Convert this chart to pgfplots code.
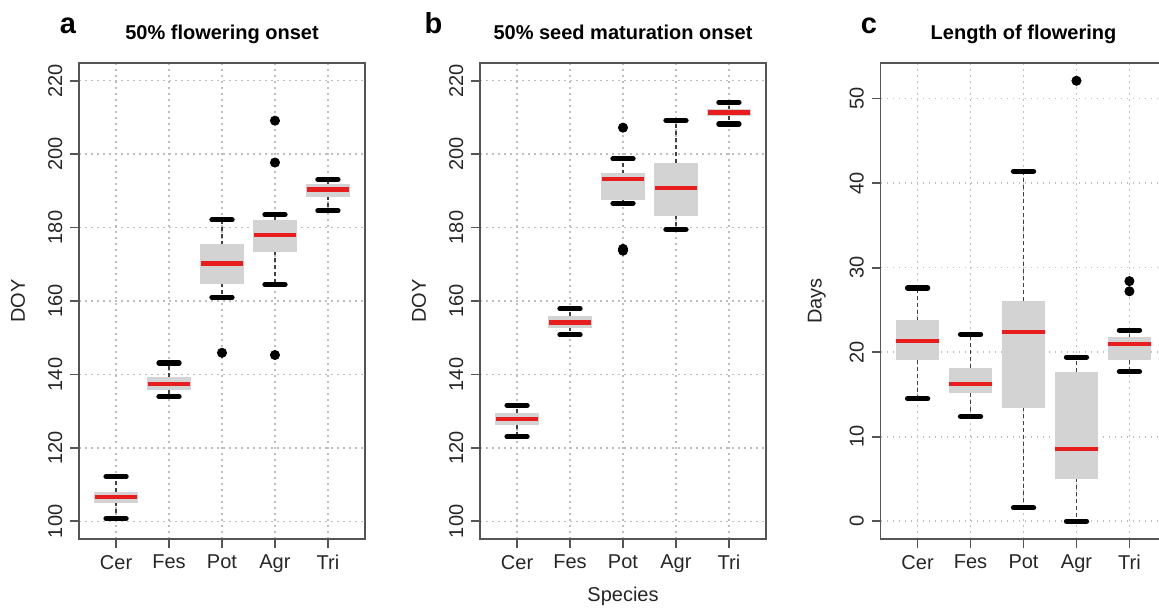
\documentclass[border=0pt]{standalone}
\usepackage{fontspec}
\setmainfont{Liberation Sans}
\usepackage{pgfplots}
\pgfplotsset{compat=1.18}
\usepgfplotslibrary{statistics}
\definecolor{boxgray}{RGB}{211,211,211}
\definecolor{medred}{RGB}{232,30,30}
\definecolor{framegray}{RGB}{85,85,85}
\definecolor{gridgray}{RGB}{190,190,190}

\pgfplotsset{
  rpanel/.style={
    anchor=south west, scale only axis, width=143pt, height=238pt,
    xmin=0.3, xmax=5.7,
    xtick={1,2,3,4,5}, xticklabels={Cer,Fes,Pot,Agr,Tri},
    /pgf/number format/assume math mode=true,
    grid=major,
    grid style={gridgray, line width=0.8pt, dash pattern=on 0.8pt off 2.2pt},
    axis line style={framegray, line width=0.9pt},
    every tick/.style={framegray, line width=0.9pt},
    tick align=outside, tick pos=left,
    major tick length=4.5pt,
    tick label style={font=\fontsize{10}{12}\selectfont, text=black!85},
    yticklabel style={xshift=-4pt, rotate=90, anchor=base},
    xticklabel style={anchor=north},
    label style={font=\fontsize{10}{12}\selectfont, text=black!85},
    title style={at={(0.5,1)}, anchor=base, yshift=6pt, font=\bfseries\fontsize{10}{12}\selectfont},
  },
  rbox/.style={
    boxplot/draw direction=y,
    boxplot/box extend=0.8,
    boxplot/whisker extend=0.38,
    mark=*, mark size=2.3pt, mark options={draw=black, fill=black},
    boxplot/draw/box/.code={%
      \fill[boxgray] (boxplot box cs:\pgfplotsboxplotvalue{lower quartile},0) rectangle (boxplot box cs:\pgfplotsboxplotvalue{upper quartile},1);
    },
    boxplot/draw/median/.code={%
      \draw[medred, line width=2.2pt] (boxplot box cs:\pgfplotsboxplotvalue{median},0) -- (boxplot box cs:\pgfplotsboxplotvalue{median},1);
    },
    boxplot/draw/lower whisker/.code={%
      \draw[black!75, line width=0.6pt, dash pattern=on 2pt off 1.5pt] (boxplot cs:\pgfplotsboxplotvalue{lower quartile}) -- (boxplot cs:\pgfplotsboxplotvalue{lower whisker});
      \draw[black, line width=2.6pt, line cap=round] (boxplot whisker cs:\pgfplotsboxplotvalue{lower whisker},0) -- (boxplot whisker cs:\pgfplotsboxplotvalue{lower whisker},1);
    },
    boxplot/draw/upper whisker/.code={%
      \draw[black!75, line width=0.6pt, dash pattern=on 2pt off 1.5pt] (boxplot cs:\pgfplotsboxplotvalue{upper quartile}) -- (boxplot cs:\pgfplotsboxplotvalue{upper whisker});
      \draw[black, line width=2.6pt, line cap=round] (boxplot whisker cs:\pgfplotsboxplotvalue{upper whisker},0) -- (boxplot whisker cs:\pgfplotsboxplotvalue{upper whisker},1);
    },
  },
}

\begin{document}
\begin{tikzpicture}
% ---------------- panel a ----------------
\begin{axis}[rpanel, at={(39.5pt,34pt)},
  ymin=95.2, ymax=224.8, ytick={100,120,...,220},
  title={50\% flowering onset},
  ylabel={DOY}, ylabel style={at={(axis description cs:-0.189,0.5)}, anchor=base}]
\addplot[rbox, boxplot prepared={draw position=1, lower whisker=100.8, lower quartile=105.2, median=106.7, upper quartile=107.9, upper whisker=112.2}] coordinates {};
\addplot[rbox, boxplot prepared={draw position=2, lower whisker=134.0, lower quartile=135.8, median=137.4, upper quartile=139.2, upper whisker=143.1}] coordinates {};
\addplot[rbox, boxplot prepared={draw position=3, lower whisker=161.0, lower quartile=164.9, median=170.2, upper quartile=175.3, upper whisker=182.1}] table[row sep=\\, y index=0] {data\\ 145.9\\};
\addplot[rbox, boxplot prepared={draw position=4, lower whisker=164.5, lower quartile=173.6, median=178.0, upper quartile=181.9, upper whisker=183.5}] table[row sep=\\, y index=0] {data\\ 209.1\\ 197.7\\ 145.3\\};
\addplot[rbox, boxplot prepared={draw position=5, lower whisker=184.6, lower quartile=188.5, median=190.4, upper quartile=191.7, upper whisker=193.1}] coordinates {};
\end{axis}
% ---------------- panel b ----------------
\begin{axis}[rpanel, at={(240pt,34pt)},
  ymin=95.2, ymax=224.8, ytick={100,120,...,220},
  title={50\% seed maturation onset},
  ylabel={DOY}, ylabel style={at={(axis description cs:-0.189,0.5)}, anchor=base},
  xlabel={Species}, xlabel style={at={(axis description cs:0.5,0)}, anchor=base, yshift=-31pt}]
\addplot[rbox, boxplot prepared={draw position=1, lower whisker=123.1, lower quartile=126.3, median=127.9, upper quartile=129.5, upper whisker=131.6}] coordinates {};
\addplot[rbox, boxplot prepared={draw position=2, lower whisker=150.8, lower quartile=152.9, median=154.2, upper quartile=155.9, upper whisker=157.9}] coordinates {};
\addplot[rbox, boxplot prepared={draw position=3, lower whisker=186.6, lower quartile=187.6, median=193.3, upper quartile=194.7, upper whisker=198.7}] table[row sep=\\, y index=0] {data\\ 207.2\\ 174.2\\ 173.7\\};
\addplot[rbox, boxplot prepared={draw position=4, lower whisker=179.5, lower quartile=183.4, median=190.7, upper quartile=197.6, upper whisker=209.1}] coordinates {};
\addplot[rbox, boxplot prepared={draw position=5, lower whisker=208.2, lower quartile=210.5, median=211.3, upper quartile=212.1, upper whisker=214.1}] coordinates {};
\end{axis}
% ---------------- panel c ----------------
\begin{axis}[rpanel, at={(440.25pt,34pt)},
  ymin=-2.1, ymax=54.2, ytick={0,10,...,50},
  title={Length of flowering},
  ylabel={Days}, ylabel style={at={(axis description cs:-0.206,0.5)}, anchor=base}]
\addplot[rbox, boxplot prepared={draw position=1, lower whisker=14.5, lower quartile=19.1, median=21.3, upper quartile=23.7, upper whisker=27.6}] coordinates {};
\addplot[rbox, boxplot prepared={draw position=2, lower whisker=12.4, lower quartile=15.2, median=16.2, upper quartile=18.1, upper whisker=22.1}] coordinates {};
\addplot[rbox, boxplot prepared={draw position=3, lower whisker=1.6, lower quartile=13.5, median=22.4, upper quartile=26.0, upper whisker=41.4}] coordinates {};
\addplot[rbox, boxplot prepared={draw position=4, lower whisker=0, lower quartile=5.1, median=8.55, upper quartile=17.6, upper whisker=19.4}] table[row sep=\\, y index=0] {data\\ 52.1\\};
\addplot[rbox, boxplot prepared={draw position=5, lower whisker=17.7, lower quartile=19.1, median=21.0, upper quartile=21.7, upper whisker=22.6}] table[row sep=\\, y index=0] {data\\ 28.4\\ 27.2\\};
\end{axis}
% panel letters
\node[anchor=base, font=\bfseries\fontsize{14.5}{17}\selectfont] at (34pt,287pt) {a};
\node[anchor=base, font=\bfseries\fontsize{14.5}{17}\selectfont] at (216.75pt,287pt) {b};
\node[anchor=base, font=\bfseries\fontsize{14.5}{17}\selectfont] at (434.5pt,287pt) {c};
\pgfresetboundingbox
\useasboundingbox (0,0) rectangle (579.5pt,303.5pt);
\end{tikzpicture}
\end{document}
